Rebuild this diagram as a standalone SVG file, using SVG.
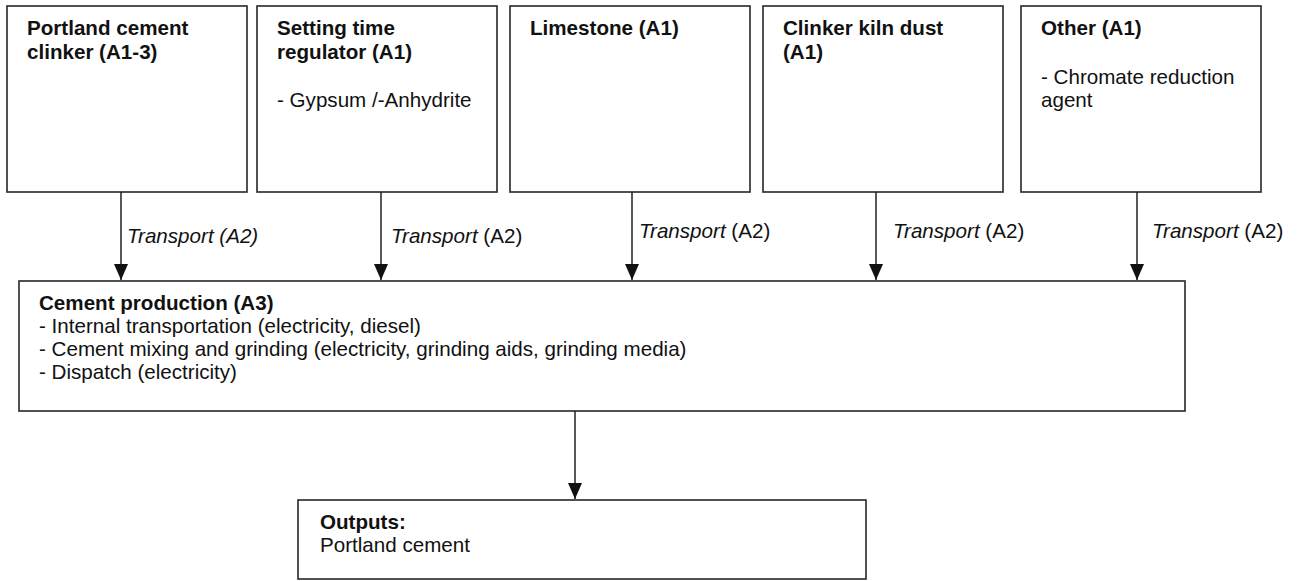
<svg xmlns="http://www.w3.org/2000/svg" width="1297" height="581" viewBox="0 0 1297 581">
<style>
.box{fill:#fff;stroke:#333;stroke-width:1.7}
.t{font-family:"Liberation Sans",Arial,sans-serif;font-size:20.6px;fill:#111}
.b{font-weight:bold}
.i{font-style:italic}
.c{stroke:#222;stroke-width:1.5;fill:none}
</style>
<defs>
<marker id="ah" viewBox="0 0 16 14" refX="16" refY="7" markerWidth="16" markerHeight="14" markerUnits="userSpaceOnUse" orient="auto">
<path d="M0,0 L16,7 L0,14 Z" fill="#111"/>
</marker>
</defs>
<rect width="1297" height="581" fill="#fff"/>
<g id="clinker">
<rect class="box" x="7" y="6" width="240" height="186"/>
<text class="t b" x="27" y="35">Portland cement</text>
<text class="t b" x="27" y="59">clinker (A1-3)</text>
</g>
<g id="regulator">
<rect class="box" x="257" y="6" width="240" height="186"/>
<text class="t b" x="277" y="35">Setting time</text>
<text class="t b" x="277" y="59">regulator (A1)</text>
<text class="t" x="277" y="107">- Gypsum /-Anhydrite</text>
</g>
<g id="limestone">
<rect class="box" x="510" y="6" width="240" height="186"/>
<text class="t b" x="530" y="35">Limestone (A1)</text>
</g>
<g id="kilndust">
<rect class="box" x="763" y="6" width="240" height="186"/>
<text class="t b" x="783" y="35">Clinker kiln dust</text>
<text class="t b" x="783" y="59">(A1)</text>
</g>
<g id="other">
<rect class="box" x="1021" y="6" width="240" height="186"/>
<text class="t b" x="1041" y="35">Other (A1)</text>
<text class="t" x="1041" y="84">- Chromate reduction</text>
<text class="t" x="1041" y="107">agent</text>
</g>
<g id="production">
<rect class="box" x="19" y="281" width="1166" height="130"/>
<text class="t b" x="39" y="310">Cement production (A3)</text>
<text class="t" x="39" y="333">- Internal transportation (electricity, diesel)</text>
<text class="t" x="39" y="356">- Cement mixing and grinding (electricity, grinding aids, grinding media)</text>
<text class="t" x="39" y="379">- Dispatch (electricity)</text>
</g>
<g id="outputs">
<rect class="box" x="298" y="500" width="568" height="79"/>
<text class="t b" x="320" y="529">Outputs:</text>
<text class="t" x="320" y="552">Portland cement</text>
</g>
<g id="connectors">
<line class="c" x1="121" y1="192" x2="121" y2="280" marker-end="url(#ah)"/>
<line class="c" x1="381" y1="192" x2="381" y2="280" marker-end="url(#ah)"/>
<line class="c" x1="632" y1="192" x2="632" y2="280" marker-end="url(#ah)"/>
<line class="c" x1="876" y1="192" x2="876" y2="280" marker-end="url(#ah)"/>
<line class="c" x1="1137" y1="192" x2="1137" y2="280" marker-end="url(#ah)"/>
<line class="c" x1="575" y1="411" x2="575" y2="499" marker-end="url(#ah)"/>
<text class="t i" x="127" y="243">Transport (A2)</text>
<text class="t" x="391" y="243"><tspan class="i">Transport</tspan> (A2)</text>
<text class="t" x="639" y="238"><tspan class="i">Transport</tspan> (A2)</text>
<text class="t" x="893" y="238"><tspan class="i">Transport</tspan> (A2)</text>
<text class="t" x="1152" y="238"><tspan class="i">Transport</tspan> (A2)</text>
</g>
</svg>
